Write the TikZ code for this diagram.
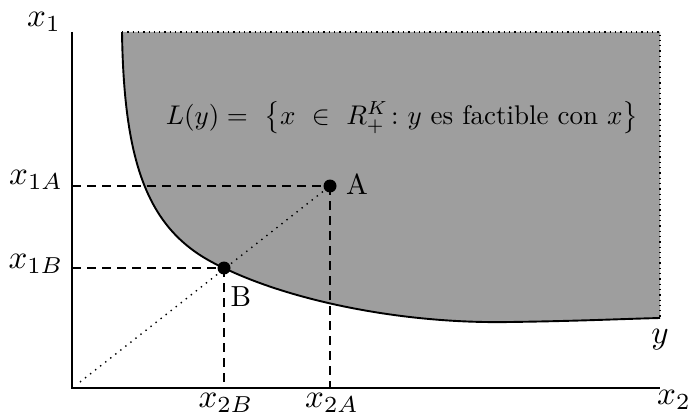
\documentclass[tikz,border=0pt]{standalone}
\usepackage{amsmath}
\begin{document}
\begin{tikzpicture}[x=1pt,y=-1pt,
  axis/.style={line width=2pt},
  guide/.style={line width=1.3pt,dash pattern=on 9pt off 6pt},
  ray/.style={line width=1.4pt,dash pattern=on 1.4pt off 5pt},
  pt/.style={circle,fill=black,inner sep=0pt,minimum size=13pt},
  axlab/.style={scale=3.3},
  ptlab/.style={scale=2.9}]
\useasboundingbox (0,0) rectangle (688,417);
\definecolor{regiongray}{HTML}{9E9E9E}
\def\curvepath{(122,32) .. controls (124,170) and (150,235) .. (224,268) .. controls (290,300) and (400,324) .. (510,322) .. controls (580,321) and (620,319) .. (660,318)}
% shaded region
\fill[regiongray] \curvepath -- (660,32) -- cycle;
\draw[line width=1.9pt] \curvepath;
\draw[line width=1.3pt,dash pattern=on 1.3pt off 4pt] (122,32) -- (660,32) -- (660,318);
% axes
\coordinate (O) at (72,388);
\coordinate (Ytop) at (72,32);
\coordinate (Xend) at (660,388);
\draw[axis] (Ytop) -- (O) -- (Xend);
% points
\node[pt] (A) at (330,186) {};
\node[pt] (B) at (224,268) {};
\coordinate (yA) at (72,186);
\coordinate (yB) at (72,268);
\coordinate (xA) at (330,388);
\coordinate (xB) at (224,388);
\coordinate (R0) at (80,382);
\draw[guide] (yA) -- (A.center);
\draw[guide] (A.center) -- (xA);
\draw[guide] (yB) -- (B.center);
\draw[guide] (B.center) -- (xB);
\draw[ray] (R0) -- (A.center);
% labels
\node[ptlab] (Alab) at (357,184) {A};
\node[ptlab] (Blab) at (241,297) {B};
\node[axlab] (x1) at (44,22) {$x_1$};
\node[axlab] (x2) at (674,400) {$x_2$};
\node[axlab] (x1A) at (36,180) {$x_{1A}$};
\node[axlab] (x1B) at (36,264) {$x_{1B}$};
\node[axlab] (x2B) at (226,403) {$x_{2B}$};
\node[axlab] (x2A) at (332,403) {$x_{2A}$};
\node[axlab] (ylab) at (660,340) {$y$};
\node[scale=2.7] (Ly) at (402,118) {$L(y) =\ \left\{x\ \in\ R^K_+\colon y\ \text{es factible con}\ x\right\}$};
\end{tikzpicture}
\end{document}
